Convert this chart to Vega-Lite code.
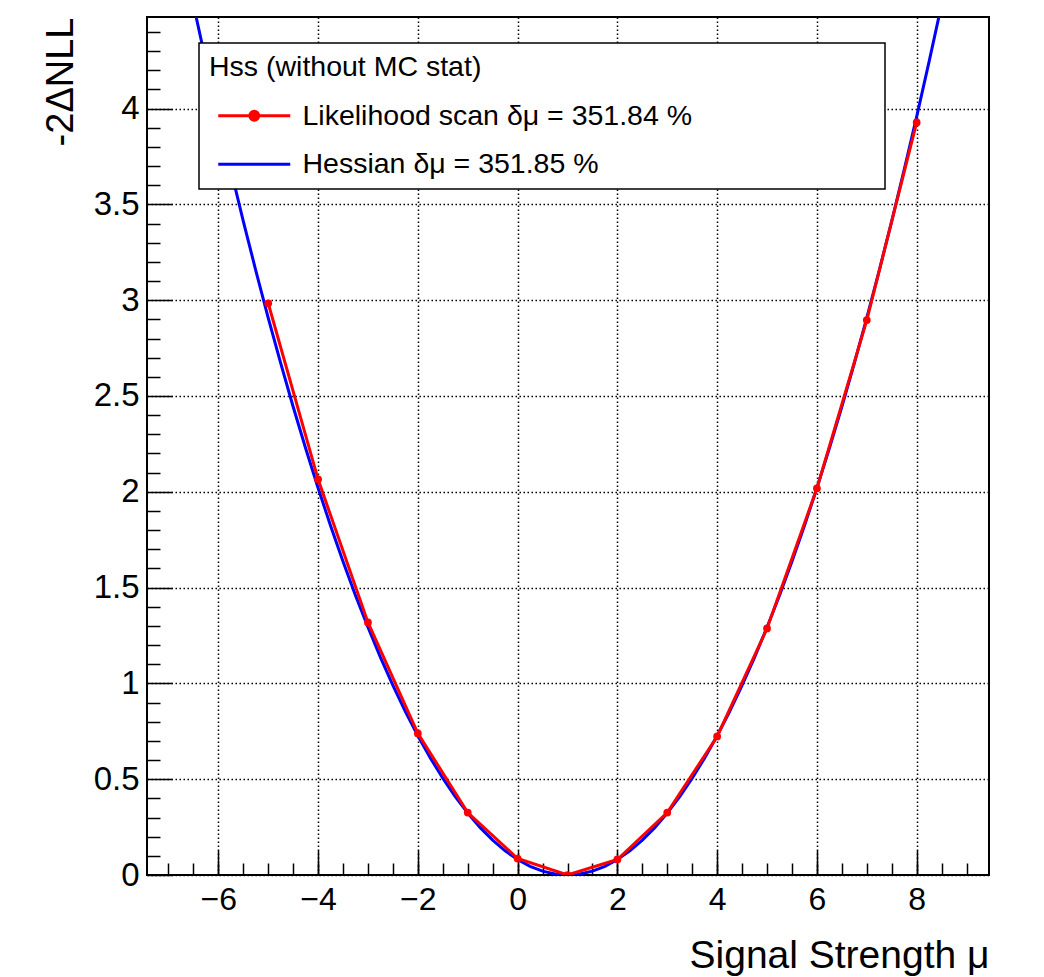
{
  "$schema": "https://vega.github.io/schema/vega-lite/v6.json",
  "width": 842,
  "height": 858,
  "autosize": "none",
  "padding": {"left": 147, "top": 17, "right": 55, "bottom": 102},
  "background": "white",
  "config": {
    "font": "Liberation Sans",
    "view": {"stroke": "black", "strokeWidth": 2},
    "axis": {
      "domain": false,
      "labelColor": "black",
      "tickColor": "black",
      "titleColor": "black",
      "labelFont": "Liberation Sans",
      "titleFont": "Liberation Sans",
      "titleFontWeight": "normal"
    },
    "legend": {
      "orient": "none",
      "legendX": 52,
      "legendY": 26,
      "direction": "vertical",
      "fillColor": "white",
      "strokeColor": "black",
      "padding": 10,
      "titleFontSize": 28.5,
      "titleFontWeight": "normal",
      "titleColor": "black",
      "titleFont": "Liberation Sans",
      "titlePadding": 20,
      "labelFontSize": 28.5,
      "labelColor": "black",
      "labelFont": "Liberation Sans",
      "labelLimit": 0,
      "titleLimit": 0,
      "symbolSize": 576,
      "symbolStrokeWidth": 3,
      "symbolOffset": 31,
      "labelOffset": 34,
      "rowPadding": 19.5
    }
  },
  "data": {
    "values": [
      {"mu": -6.5, "nll": 4.544, "series": "Hessian δμ = 351.85 %"},
      {"mu": -6.25, "nll": 4.246, "series": "Hessian δμ = 351.85 %"},
      {"mu": -6.0, "nll": 3.958, "series": "Hessian δμ = 351.85 %"},
      {"mu": -5.75, "nll": 3.681, "series": "Hessian δμ = 351.85 %"},
      {"mu": -5.5, "nll": 3.413, "series": "Hessian δμ = 351.85 %"},
      {"mu": -5.25, "nll": 3.156, "series": "Hessian δμ = 351.85 %"},
      {"mu": -5.0, "nll": 2.908, "series": "Hessian δμ = 351.85 %"},
      {"mu": -4.75, "nll": 2.671, "series": "Hessian δμ = 351.85 %"},
      {"mu": -4.5, "nll": 2.444, "series": "Hessian δμ = 351.85 %"},
      {"mu": -4.25, "nll": 2.227, "series": "Hessian δμ = 351.85 %"},
      {"mu": -4.0, "nll": 2.020, "series": "Hessian δμ = 351.85 %"},
      {"mu": -3.75, "nll": 1.823, "series": "Hessian δμ = 351.85 %"},
      {"mu": -3.5, "nll": 1.636, "series": "Hessian δμ = 351.85 %"},
      {"mu": -3.25, "nll": 1.459, "series": "Hessian δμ = 351.85 %"},
      {"mu": -3.0, "nll": 1.293, "series": "Hessian δμ = 351.85 %"},
      {"mu": -2.75, "nll": 1.136, "series": "Hessian δμ = 351.85 %"},
      {"mu": -2.5, "nll": 0.990, "series": "Hessian δμ = 351.85 %"},
      {"mu": -2.25, "nll": 0.853, "series": "Hessian δμ = 351.85 %"},
      {"mu": -2.0, "nll": 0.727, "series": "Hessian δμ = 351.85 %"},
      {"mu": -1.75, "nll": 0.611, "series": "Hessian δμ = 351.85 %"},
      {"mu": -1.5, "nll": 0.505, "series": "Hessian δμ = 351.85 %"},
      {"mu": -1.25, "nll": 0.409, "series": "Hessian δμ = 351.85 %"},
      {"mu": -1.0, "nll": 0.323, "series": "Hessian δμ = 351.85 %"},
      {"mu": -0.75, "nll": 0.247, "series": "Hessian δμ = 351.85 %"},
      {"mu": -0.5, "nll": 0.182, "series": "Hessian δμ = 351.85 %"},
      {"mu": -0.25, "nll": 0.126, "series": "Hessian δμ = 351.85 %"},
      {"mu": 0.0, "nll": 0.081, "series": "Hessian δμ = 351.85 %"},
      {"mu": 0.25, "nll": 0.045, "series": "Hessian δμ = 351.85 %"},
      {"mu": 0.5, "nll": 0.020, "series": "Hessian δμ = 351.85 %"},
      {"mu": 0.75, "nll": 0.005, "series": "Hessian δμ = 351.85 %"},
      {"mu": 1.0, "nll": 0.0, "series": "Hessian δμ = 351.85 %"},
      {"mu": 1.25, "nll": 0.005, "series": "Hessian δμ = 351.85 %"},
      {"mu": 1.5, "nll": 0.020, "series": "Hessian δμ = 351.85 %"},
      {"mu": 1.75, "nll": 0.045, "series": "Hessian δμ = 351.85 %"},
      {"mu": 2.0, "nll": 0.081, "series": "Hessian δμ = 351.85 %"},
      {"mu": 2.25, "nll": 0.126, "series": "Hessian δμ = 351.85 %"},
      {"mu": 2.5, "nll": 0.182, "series": "Hessian δμ = 351.85 %"},
      {"mu": 2.75, "nll": 0.247, "series": "Hessian δμ = 351.85 %"},
      {"mu": 3.0, "nll": 0.323, "series": "Hessian δμ = 351.85 %"},
      {"mu": 3.25, "nll": 0.409, "series": "Hessian δμ = 351.85 %"},
      {"mu": 3.5, "nll": 0.505, "series": "Hessian δμ = 351.85 %"},
      {"mu": 3.75, "nll": 0.611, "series": "Hessian δμ = 351.85 %"},
      {"mu": 4.0, "nll": 0.727, "series": "Hessian δμ = 351.85 %"},
      {"mu": 4.25, "nll": 0.853, "series": "Hessian δμ = 351.85 %"},
      {"mu": 4.5, "nll": 0.990, "series": "Hessian δμ = 351.85 %"},
      {"mu": 4.75, "nll": 1.136, "series": "Hessian δμ = 351.85 %"},
      {"mu": 5.0, "nll": 1.293, "series": "Hessian δμ = 351.85 %"},
      {"mu": 5.25, "nll": 1.459, "series": "Hessian δμ = 351.85 %"},
      {"mu": 5.5, "nll": 1.636, "series": "Hessian δμ = 351.85 %"},
      {"mu": 5.75, "nll": 1.823, "series": "Hessian δμ = 351.85 %"},
      {"mu": 6.0, "nll": 2.020, "series": "Hessian δμ = 351.85 %"},
      {"mu": 6.25, "nll": 2.227, "series": "Hessian δμ = 351.85 %"},
      {"mu": 6.5, "nll": 2.444, "series": "Hessian δμ = 351.85 %"},
      {"mu": 6.75, "nll": 2.671, "series": "Hessian δμ = 351.85 %"},
      {"mu": 7.0, "nll": 2.908, "series": "Hessian δμ = 351.85 %"},
      {"mu": 7.25, "nll": 3.156, "series": "Hessian δμ = 351.85 %"},
      {"mu": 7.5, "nll": 3.413, "series": "Hessian δμ = 351.85 %"},
      {"mu": 7.75, "nll": 3.681, "series": "Hessian δμ = 351.85 %"},
      {"mu": 8.0, "nll": 3.958, "series": "Hessian δμ = 351.85 %"},
      {"mu": 8.25, "nll": 4.246, "series": "Hessian δμ = 351.85 %"},
      {"mu": 8.5, "nll": 4.544, "series": "Hessian δμ = 351.85 %"},
      {"mu": -5, "nll": 2.984, "series": "Likelihood scan δμ = 351.84 %"},
      {"mu": -4, "nll": 2.065, "series": "Likelihood scan δμ = 351.84 %"},
      {"mu": -3, "nll": 1.318, "series": "Likelihood scan δμ = 351.84 %"},
      {"mu": -2, "nll": 0.739, "series": "Likelihood scan δμ = 351.84 %"},
      {"mu": -1, "nll": 0.326, "series": "Likelihood scan δμ = 351.84 %"},
      {"mu": 0, "nll": 0.086, "series": "Likelihood scan δμ = 351.84 %"},
      {"mu": 1, "nll": 0.0, "series": "Likelihood scan δμ = 351.84 %"},
      {"mu": 2, "nll": 0.081, "series": "Likelihood scan δμ = 351.84 %"},
      {"mu": 3, "nll": 0.326, "series": "Likelihood scan δμ = 351.84 %"},
      {"mu": 4, "nll": 0.723, "series": "Likelihood scan δμ = 351.84 %"},
      {"mu": 5, "nll": 1.287, "series": "Likelihood scan δμ = 351.84 %"},
      {"mu": 6, "nll": 2.018, "series": "Likelihood scan δμ = 351.84 %"},
      {"mu": 7, "nll": 2.896, "series": "Likelihood scan δμ = 351.84 %"},
      {"mu": 8, "nll": 3.928, "series": "Likelihood scan δμ = 351.84 %"}
    ]
  },
  "layer": [
    {
      "transform": [{"filter": {"field": "series", "equal": "Hessian δμ = 351.85 %"}}],
      "mark": {"type": "line", "strokeWidth": 3, "clip": true},
      "encoding": {
        "x": {
          "field": "mu", "type": "quantitative",
          "scale": {"domain": [-7.43, 9.45], "nice": false, "zero": false},
          "axis": {
            "orient": "bottom", "values": [-7, -6.5, -6, -5.5, -5, -4.5, -4, -3.5, -3, -2.5, -2, -1.5, -1, -0.5, 0, 0.5, 1, 1.5, 2, 2.5, 3, 3.5, 4, 4.5, 5, 5.5, 6, 6.5, 7, 7.5, 8, 8.5, 9],
            "labels": false, "grid": false, "title": null, "tickSize": -12, "tickWidth": 1.5
          }
        },
        "y": {
          "field": "nll", "type": "quantitative",
          "scale": {"domain": [0, 4.478], "nice": false, "zero": false},
          "axis": {
            "orient": "left", "values": [0.1, 0.2, 0.3, 0.4, 0.6, 0.7, 0.8, 0.9, 1.1, 1.2, 1.3, 1.4, 1.6, 1.7, 1.8, 1.9, 2.1, 2.2, 2.3, 2.4, 2.6, 2.7, 2.8, 2.9, 3.1, 3.2, 3.3, 3.4, 3.6, 3.7, 3.8, 3.9, 4.1, 4.2, 4.3, 4.4],
            "labels": false, "grid": false, "title": null, "tickSize": -13, "tickWidth": 1.5
          }
        },
        "color": {
          "field": "series", "type": "nominal",
          "scale": {"domain": ["Likelihood scan δμ = 351.84 %", "Hessian δμ = 351.85 %"], "range": ["#ff0000", "#0000ff"]},
          "legend": {
            "title": "Hss (without MC stat)",
            "labelExpr": "datum.label + '\u00a0\u00a0\u00a0\u00a0\u00a0\u00a0\u00a0\u00a0\u00a0\u00a0\u00a0\u00a0\u00a0\u00a0\u00a0\u00a0\u00a0\u00a0\u00a0\u00a0\u00a0\u00a0\u00a0\u200b'",
            "encode": {
              "symbols": {
                "update": {
                  "shape": {"signal": "datum.value === 'Hessian δμ = 351.85 %' ? 'M-3,0L3,0' : 'M-3,0L3,0M0.37,0A0.37,0.37,0,1,1,-0.37,0A0.37,0.37,0,1,1,0.37,0'"},
                  "fill": {"signal": "datum.value === 'Hessian δμ = 351.85 %' ? 'transparent' : '#ff0000'"},
                  "strokeWidth": {"value": 3},
                  "opacity": {"value": 1}
                }
              },
              "legend": {"update": {"strokeWidth": {"value": 1.5}}}
            }
          }
        }
      }
    },
    {
      "transform": [{"filter": {"field": "series", "equal": "Likelihood scan δμ = 351.84 %"}}],
      "mark": {"type": "line", "strokeWidth": 3, "clip": true},
      "encoding": {
        "x": {
          "field": "mu", "type": "quantitative",
          "axis": {
            "orient": "bottom", "values": [-6, -4, -2, 0, 2, 4, 6, 8], "format": "~g",
            "tickSize": -25, "tickWidth": 1.5, "labelPadding": 34, "labelFontSize": 32,
            "grid": true, "gridColor": "black", "gridDash": [1.5, 2.5], "gridWidth": 1.5, "gridOpacity": 1,
            "title": "Signal Strength μ", "titleFontSize": 39, "titleAnchor": "end", "titleAlign": "right",
            "titleBaseline": "alphabetic", "titleX": 842, "titleY": 92
          }
        },
        "y": {
          "field": "nll", "type": "quantitative",
          "axis": {
            "orient": "left", "values": [0, 0.5, 1, 1.5, 2, 2.5, 3, 3.5, 4], "format": "~g",
            "tickSize": -25, "tickWidth": 1.5, "labelPadding": 33, "labelFontSize": 33,
            "grid": true, "gridColor": "black", "gridDash": [1.5, 2.5], "gridWidth": 1.5, "gridOpacity": 1,
            "title": "-2ΔNLL", "titleFontSize": 38, "titleAngle": -90, "titleAnchor": "end", "titleAlign": "right",
            "titleBaseline": "alphabetic", "titleX": -75, "titleY": 0
          }
        },
        "color": {"field": "series", "type": "nominal"}
      }
    },
    {
      "transform": [{"filter": {"field": "series", "equal": "Likelihood scan δμ = 351.84 %"}}],
      "mark": {"type": "point", "filled": true, "size": 60, "opacity": 1, "clip": true},
      "encoding": {
        "x": {"field": "mu", "type": "quantitative", "axis": null},
        "y": {"field": "nll", "type": "quantitative", "axis": null},
        "color": {"field": "series", "type": "nominal"}
      }
    }
  ],
  "resolve": {"axis": {"x": "independent", "y": "independent"}}
}
